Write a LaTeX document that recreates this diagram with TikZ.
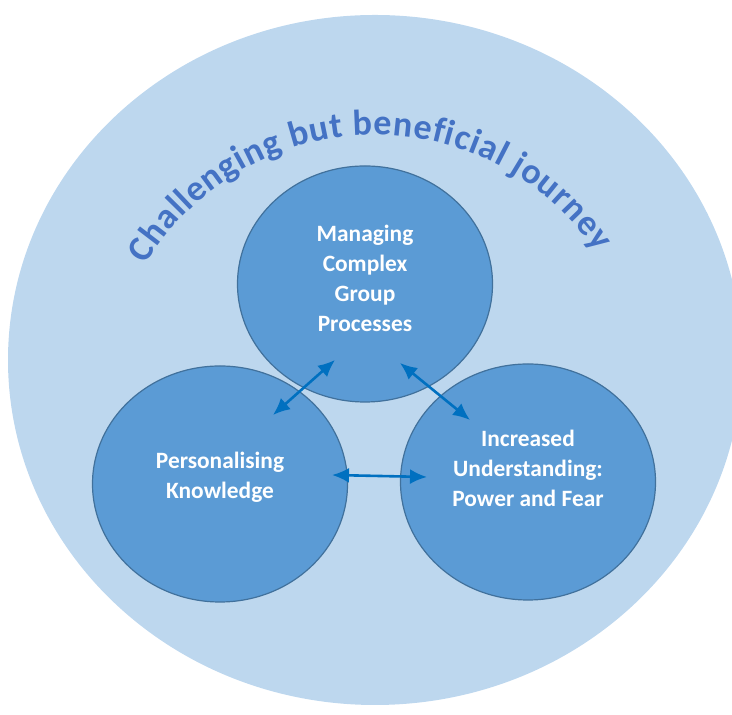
\documentclass[tikz,border=0pt]{standalone}
\usepackage{fontspec}
\setmainfont{Carlito}
\usetikzlibrary{positioning,shapes.geometric,decorations.text,arrows.meta}
\definecolor{bgblue}{HTML}{BDD7EE}
\definecolor{midblue}{HTML}{5B9BD5}
\definecolor{rimblue}{HTML}{41719C}
\definecolor{arrowblue}{HTML}{0070C0}
\definecolor{titleblue}{HTML}{4472C4}

\begin{document}
\begin{tikzpicture}[x=0.5pt,y=0.5pt,node distance=10pt,on grid,
  >={Latex[length=8.5pt,width=7.5pt]},
  blob/.style={ellipse,draw=rimblue,line width=0.6pt,fill=midblue,minimum width=127.5pt,minimum height=118pt,inner sep=0pt},
  caption/.style={text=white,font=\bfseries\fontsize{11.7}{15}\selectfont,align=center},
  link/.style={<->,draw=arrowblue,line width=1.3pt}]
\useasboundingbox (0,0) rectangle (732,715);
\node[ellipse,fill=bgblue,minimum width=367pt,minimum height=345pt,inner sep=0pt](c_big) at (375,355){};
% title bent over the three circles
\path[decorate,decoration={text along path,text align={fit to path},text color=titleblue,
  text={|\bfseries\fontsize{18}{18}\selectfont|Challenging but beneficial journey}}]
  (146,450.5) arc[start angle=149,end angle=34,radius=267];
\node[blob](c_m) at (365,431){};
\node[blob](c_p)[below left=100pt and 72.5pt of c_m]{};
\node[blob](c_i)[below right=99pt and 81.5pt of c_m]{};
\node[caption](t_m)[above=2.75pt of c_m]{Managing\\Complex\\Group\\Processes};
\node[caption](t_p)[above=3.5pt of c_p]{Personalising\\Knowledge};
\node[caption](t_i)[above=7pt of c_i]{Increased\\Understanding:\\Power and Fear};
\draw[link] ([shift={(53,69)}]c_p.center) -- ([shift={(-30,-76)}]c_m.center);
\draw[link] ([shift={(35,-79)}]c_m.center) -- ([shift={(-58,62)}]c_i.center);
\draw[link] ([shift={(112,9)}]c_p.center) -- ([shift={(-101,5)}]c_i.center);

\end{tikzpicture}
\end{document}
